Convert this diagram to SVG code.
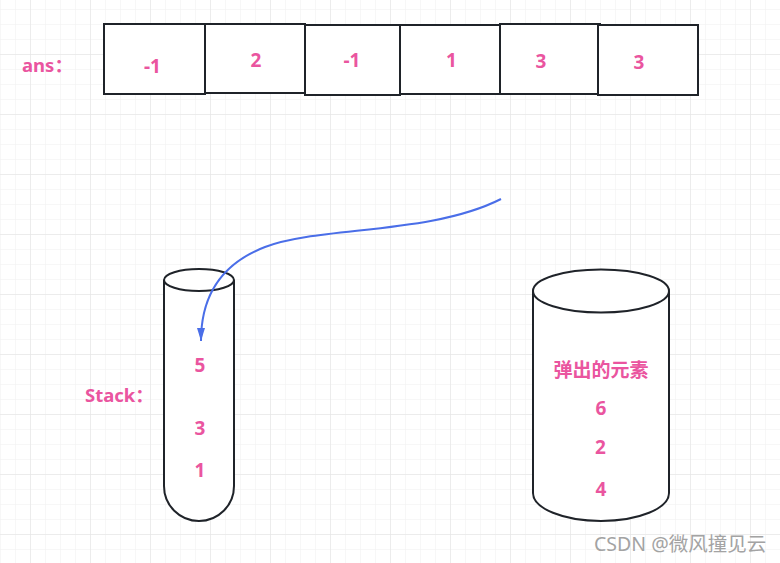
<svg xmlns="http://www.w3.org/2000/svg" width="780" height="563" viewBox="0 0 780 563">
<defs>
<pattern id="minor" width="15" height="15" patternUnits="userSpaceOnUse" x="0" y="9">
<path d="M0,0 H15 M0,0 V15" fill="none" stroke="#efefef" stroke-width="1"/>
</pattern>
<pattern id="major" width="60" height="60" patternUnits="userSpaceOnUse" x="30" y="54">
<path d="M0,0 H60 M0,0 V60" fill="none" stroke="#e2e2e2" stroke-width="1"/>
</pattern>
<marker id="arr" viewBox="0 0 13 8" refX="13" refY="4" markerWidth="6.5" markerHeight="4" orient="auto" markerUnits="strokeWidth">
<path d="M0,0 L13,4 L0,8 Z" fill="#4a6ee8"/>
</marker>
<style>
.box{fill:#ffffff;stroke:#1f2329;stroke-width:2}
.shape{fill:#ffffff;stroke:#1f2329;stroke-width:2}
.t{font-family:"Noto Sans","Noto Sans CJK SC",sans-serif;font-weight:700;font-size:19px;fill:#ea559f;text-anchor:middle}
.lbl{font-family:"Noto Sans","Noto Sans CJK SC",sans-serif;font-weight:700;font-size:18.5px;fill:#ea559f}
.wm{font-family:"Noto Sans","Noto Sans CJK SC",sans-serif;font-size:19.5px;fill:#a3a3a3}
</style>
</defs>
<rect width="780" height="563" fill="#ffffff"/>
<rect width="780" height="563" fill="url(#minor)"/>
<rect width="780" height="563" fill="url(#major)"/>

<text class="lbl" x="22" y="72">ans：</text>
<g id="ans1"><rect class="box" x="104" y="24" width="101" height="70"/><text class="t" x="152.5" y="72.5">-1</text></g>
<g id="ans2"><rect class="box" x="205" y="24" width="100" height="69"/><text class="t" x="256" y="66.5">2</text></g>
<g id="ans3"><rect class="box" x="305" y="25" width="95" height="70"/><text class="t" x="352" y="66.5">-1</text></g>
<g id="ans4"><rect class="box" x="400" y="25" width="100" height="69"/><text class="t" x="451.5" y="66.5">1</text></g>
<g id="ans5"><rect class="box" x="500" y="24" width="100" height="70"/><text class="t" x="541" y="68">3</text></g>
<g id="ans6"><rect class="box" x="598" y="25" width="100" height="70"/><text class="t" x="639" y="69">3</text></g>

<text class="lbl" x="85" y="402">Stack：</text>
<g id="stack">
<path class="shape" d="M164,280 V486 A35,35 0 0 0 234,486 V280"/>
<ellipse class="shape" cx="199" cy="280" rx="35" ry="11"/>
<text class="t" x="200" y="371.5">5</text>
<text class="t" x="200" y="434.5">3</text>
<text class="t" x="200" y="477">1</text>
</g>

<g id="popped">
<path class="shape" d="M533,291 V493 A68,28 0 0 0 669,493 V291"/>
<ellipse class="shape" cx="601" cy="291" rx="68" ry="21.5"/>
<text class="t" x="601" y="377">弹出的元素</text>
<text class="t" x="601" y="415">6</text>
<text class="t" x="600.5" y="454">2</text>
<text class="t" x="601" y="496">4</text>
</g>

<g id="connectors">
<path d="M501,199 C430,235 320,226 265,247 C218,265 201,300 201,341" fill="none" stroke="#4a6ee8" stroke-width="2" marker-end="url(#arr)"/>
</g>

<text class="wm" x="594" y="551">CSDN @微风撞见云</text>
</svg>
